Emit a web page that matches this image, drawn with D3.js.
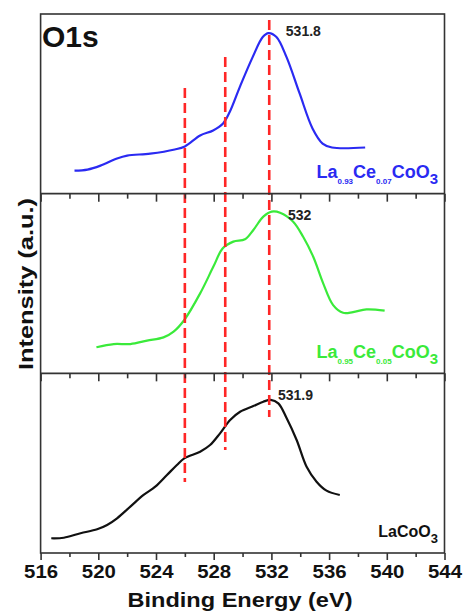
<!DOCTYPE html>
<html>
<head>
<meta charset="utf-8">
<script src="https://cdn.jsdelivr.net/npm/d3@7"></script>
<style>
  body { margin: 0; background: #fff; }
  svg { font-family: "Liberation Sans", Arial, sans-serif; font-weight: bold; }
</style>
</head>
<body>
<div id="chart"></div>
<script>
// binding energy (eV) and intensity (a.u., 0-100 inside each panel)
var energyTop = [518.35, 519.25, 520.15, 521.3, 522.0, 523.6, 525.3, 526.0, 527.06, 527.96, 528.65, 529.1, 529.8, 530.7, 531.4, 531.8, 532.35, 533.05, 533.95, 534.85, 535.55, 536.2, 538.5];
var intensityTop = [12.8, 13.4, 15.6, 19.6, 21.2, 22.3, 24.6, 26.3, 32.4, 35.2, 39.1, 45.3, 59.2, 76, 87.2, 89.4, 87.2, 76, 55.9, 36.3, 27.9, 25.7, 25.7];

var energyMid = [519.87, 521.07, 522.22, 523.38, 524.52, 525.22, 525.96, 527.06, 527.98, 528.63, 529.36, 530.17, 530.75, 531.44, 532.02, 532.6, 533.51, 534.2, 534.9, 535.59, 536.28, 536.97, 537.66, 538.59, 539.85];
var intensityMid = [14.5, 16.3, 16.3, 18.2, 20.0, 23.2, 29.7, 44.5, 59.4, 69.6, 73.3, 74.6, 79.8, 87.2, 90.0, 89.4, 84.4, 76.0, 64.9, 50.1, 38.0, 33.7, 34.1, 35.6, 34.9];

var energyBot = [516.74, 517.61, 518.77, 519.92, 520.61, 521.3, 522.22, 523.14, 523.95, 524.76, 525.45, 525.96, 527.06, 527.75, 528.44, 529.14, 529.83, 530.75, 531.44, 531.95, 532.48, 533.06, 533.75, 534.44, 535.13, 535.82, 536.74];
var intensityBot = [8.2, 8.5, 11.0, 13.2, 15.6, 19.3, 25.8, 32.3, 36.9, 43.4, 49.0, 52.7, 56.4, 60.1, 66.6, 74.0, 78.6, 81.8, 84.2, 85.2, 83.3, 75.0, 62.9, 48.0, 39.7, 34.7, 32.3];

// peaks
var peakLabels = ["531.8", "532", "531.9"];
var peakLabelEnergy = [533.0, 533.15, 532.45];
var peakLabelLevel = [88, 85.3, 85.2];

// sample names: [text, subscript] pieces
var sampleNames = [
  [["La", ""], ["0.93", "s"], ["Ce", ""], ["0.07", "s"], ["CoO", ""], ["3", "b"]],
  [["La", ""], ["0.95", "s"], ["Ce", ""], ["0.05", "s"], ["CoO", ""], ["3", "b"]],
  [["LaCoO", ""], ["3", "b"]]
];
var sampleColors = ["#2a2af2", "#3aea3a", "#111111"];

// red dashed guide lines (energy, from stack level, to stack level)
var guideEnergy = [526.0, 528.8, 531.85];
var guideTop = [258.8, 276, 296.6];
var guideBottom = [39.5, 57.3, 75.7];

var xTicks = [516, 520, 524, 528, 532, 536, 540, 544];
var xMinorTicks = [518, 522, 526, 530, 534, 538, 542];

var series = [
  {energy: energyTop, intensity: intensityTop},
  {energy: energyMid, intensity: intensityMid},
  {energy: energyBot, intensity: intensityBot}
];

var W = 465, H = 611;
var plotLeft = 40.6, plotRight = 444.5, plotTop = 14, plotBottom = 553;

var svg = d3.select("#chart").append("svg")
  .attr("width", W)
  .attr("height", H);

var x = d3.scaleLinear().domain([516, 544]).range([plotLeft, plotRight]);
// whole stack: each panel is 100 units tall, top panel is index 0
var yStack = d3.scaleLinear().domain([0, 300]).range([plotBottom, plotTop]);
function panelY(i, v) { return yStack((2 - i) * 100 + v); }

// curves
var line = d3.line().curve(d3.curveCatmullRom.alpha(0.5));
series.forEach(function(s, i) {
  var pts = s.energy.map(function(e, k) { return [x(e), panelY(i, s.intensity[k])]; });
  svg.append("path")
    .attr("d", line(pts))
    .attr("fill", "none")
    .attr("stroke", sampleColors[i])
    .attr("stroke-width", 2.2);
});

// dashed guides
guideEnergy.forEach(function(e, i) {
  svg.append("line")
    .attr("x1", x(e)).attr("x2", x(e))
    .attr("y1", yStack(guideTop[i])).attr("y2", yStack(guideBottom[i]))
    .attr("stroke", "#ff2626")
    .attr("stroke-width", 2.6)
    .attr("stroke-dasharray", "10,5");
});

// frame and panel dividers
svg.append("rect")
  .attr("x", plotLeft).attr("y", plotTop)
  .attr("width", plotRight - plotLeft).attr("height", plotBottom - plotTop)
  .attr("fill", "none").attr("stroke", "#333").attr("stroke-width", 1.6);

[1, 2].forEach(function(i) {
  var yy = yStack(i * 100);
  svg.append("line")
    .attr("x1", plotLeft).attr("x2", plotRight)
    .attr("y1", yy).attr("y2", yy)
    .attr("stroke", "#333").attr("stroke-width", 1.6);
  // ticks below the divider
  svg.append("g").attr("transform", "translate(0," + yy + ")")
    .call(d3.axisBottom(x).tickValues(xTicks).tickSize(8).tickFormat(""))
    .call(function(g) { g.select(".domain").remove(); });
  svg.append("g").attr("transform", "translate(0," + yy + ")")
    .call(d3.axisBottom(x).tickValues(xMinorTicks).tickSize(5).tickFormat(""))
    .call(function(g) { g.select(".domain").remove(); });
});

// bottom axis
var xAxis = svg.append("g").attr("transform", "translate(0," + plotBottom + ")")
  .call(d3.axisBottom(x).tickValues(xTicks).tickSize(7).tickPadding(5).tickFormat(d3.format("d")));
xAxis.select(".domain").remove();
xAxis.selectAll("text")
  .attr("font-size", 19)
  .attr("font-family", "Liberation Sans, Arial, sans-serif")
  .attr("font-weight", "bold")
  .attr("fill", "#111")
  .attr("textLength", 34)
  .attr("lengthAdjust", "spacingAndGlyphs");
svg.append("g").attr("transform", "translate(0," + plotBottom + ")")
  .call(d3.axisBottom(x).tickValues(xMinorTicks).tickSize(4).tickFormat(""))
  .call(function(g) { g.select(".domain").remove(); });

svg.selectAll(".tick line").attr("stroke", "#333").attr("stroke-width", 1.6);

// axis titles
svg.append("text")
  .attr("x", 240).attr("y", 607)
  .attr("text-anchor", "middle")
  .attr("font-size", 20)
  .attr("fill", "#111")
  .attr("textLength", 225)
  .attr("lengthAdjust", "spacingAndGlyphs")
  .text("Binding Energy (eV)");

svg.append("text")
  .attr("transform", "translate(33,284) rotate(-90)")
  .attr("text-anchor", "middle")
  .attr("font-size", 20)
  .attr("fill", "#111")
  .attr("textLength", 172)
  .attr("lengthAdjust", "spacingAndGlyphs")
  .text("Intensity (a.u.)");

svg.append("text")
  .attr("x", 42).attr("y", 47)
  .attr("font-size", 30)
  .attr("fill", "#111")
  .text("O1s");

// peak labels
peakLabels.forEach(function(t, i) {
  svg.append("text")
    .attr("x", x(peakLabelEnergy[i]))
    .attr("y", panelY(i, peakLabelLevel[i]))
    .attr("font-size", 14)
    .attr("fill", "#222")
    .text(t);
});

// sample labels
var labelBase = [178, 358, 537];
var labelSize = [18, 18, 16];
sampleNames.forEach(function(parts, i) {
  var t = svg.append("text")
    .attr("x", 438).attr("y", labelBase[i])
    .attr("text-anchor", "end")
    .attr("fill", sampleColors[i])
    .attr("font-size", labelSize[i]);
  var shift = 0;
  parts.forEach(function(p) {
    var target = p[1] == "s" ? 6 : (p[1] == "b" ? 6 : 0);
    var ts = t.append("tspan").attr("dy", target - shift).text(p[0]);
    if (p[1] == "s") ts.attr("font-size", 8);
    if (p[1] == "b") ts.attr("font-size", labelSize[i] - 3);
    shift = target;
  });
});
</script>
</body>
</html>
